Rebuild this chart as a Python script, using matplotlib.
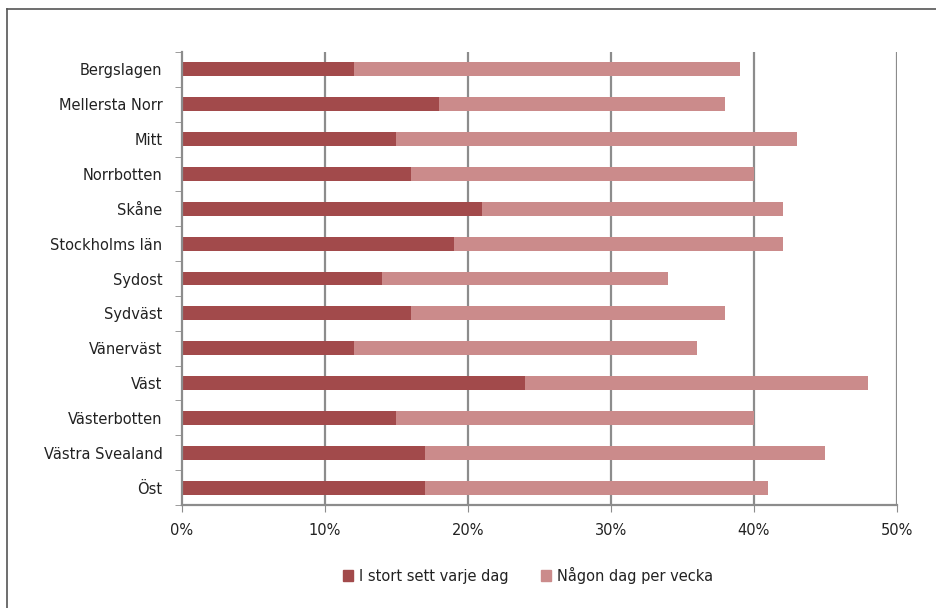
import matplotlib.pyplot as plt
from matplotlib.lines import Line2D
from matplotlib.patches import Patch

# data (percent)
regions = ["Bergslagen", "Mellersta Norr", "Mitt", "Norrbotten", "Skåne",
           "Stockholms län", "Sydost", "Sydväst", "Vänerväst", "Väst",
           "Västerbotten", "Västra Svealand", "Öst"]
daily = [12, 18, 15, 16, 21, 19, 14, 16, 12, 24, 15, 17, 17]
weekly = [27, 20, 28, 24, 21, 23, 20, 22, 24, 24, 25, 28, 24]
xticks = [0, 10, 20, 30, 40, 50]

DARK = "#A24A4B"
LIGHT = "#CB8B8B"
GRID = "#8C8C8C"

plt.rcParams["font.family"] = "DejaVu Sans"

fig = plt.figure(figsize=(9.37, 6.08), dpi=100)
ax = fig.add_axes([182 / 937, 1 - 505 / 608, (897 - 182) / 937, (505 - 52) / 608])

pos = list(range(len(regions)))
ax.barh(pos, daily, height=0.4, color=DARK, label="I stort sett varje dag")
ax.barh(pos, weekly, left=daily, height=0.4, color=LIGHT, label="Någon dag per vecka")

ax.set_xlim(0, 50)
ax.set_ylim(len(regions) - 0.5, -0.5)
ax.set_xticks(xticks)
ax.set_xticklabels([f"{v}%" for v in xticks], fontsize=10.5, color="#222222")
ax.set_yticks(pos)
ax.set_yticklabels(regions, fontsize=10.5, color="#222222")
ax.tick_params(axis="y", length=0, pad=14)
ax.tick_params(axis="x", length=5, color=GRID, pad=8)
ax.set_yticks([p - 0.5 for p in pos] + [len(regions) - 0.5], minor=True)
ax.tick_params(axis="y", which="minor", length=5, color=GRID)

for v in xticks[1:]:
    ax.axvline(v, color=GRID, lw=1.6, zorder=0)

for s in ["top", "right"]:
    ax.spines[s].set_visible(False)
for s in ["left", "bottom"]:
    ax.spines[s].set_color(GRID)
    ax.spines[s].set_linewidth(1.6)

handles = [Patch(color=DARK), Patch(color=LIGHT)]
fig.legend(handles, ["I stort sett varje dag", "Någon dag per vecka"],
           loc="center", bbox_to_anchor=(528 / 937, 1 - 575 / 608), ncol=2,
           frameon=False, fontsize=10.5, handlelength=0.7, handleheight=0.7,
           handletextpad=0.4, columnspacing=2.2, labelcolor="#222222")

# outer frame (only top and left visible)
fig.add_artist(Line2D([7 / 937, 1], [1 - 9 / 608, 1 - 9 / 608], color="#555555", lw=1.2))
fig.add_artist(Line2D([7 / 937, 7 / 937], [0, 1 - 9 / 608], color="#555555", lw=1.2))

fig.savefig("out.png", dpi=100)
